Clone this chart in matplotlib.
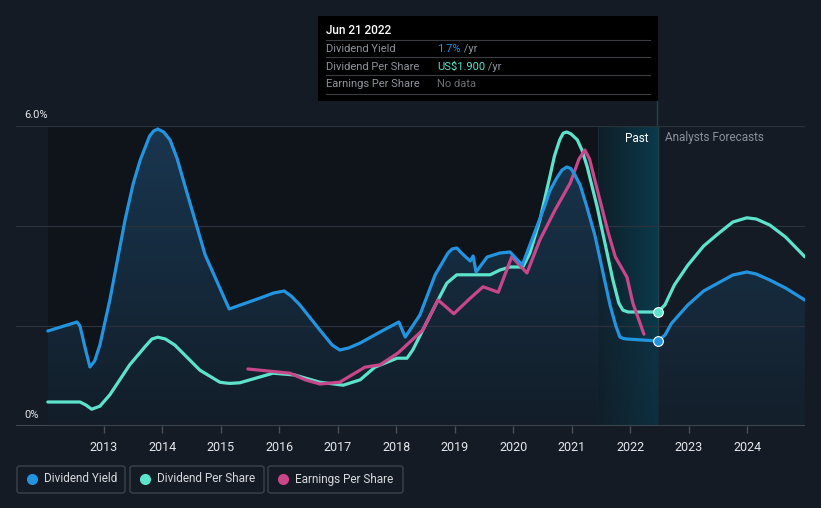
import numpy as np
import matplotlib
matplotlib.use('Agg')
import matplotlib.pyplot as plt
from matplotlib.patches import FancyBboxPatch, Rectangle
import matplotlib.colors as mcolors

# Dividend yield (%), past and analyst forecast
yield_years = [2012.04, 2012.54, 2012.59, 2012.68, 2012.76, 2012.84, 2012.93, 2013.10, 2013.36,
               2013.50, 2013.62, 2013.78, 2013.85, 2013.92, 2014.02, 2014.13, 2014.25, 2014.38,
               2014.73, 2015.14, 2015.67, 2015.90, 2016.08, 2016.20, 2016.35, 2016.69, 2016.90,
               2017.03, 2017.18, 2017.38, 2017.72, 2018.04, 2018.15, 2018.40, 2018.66, 2018.88,
               2018.95, 2019.03, 2019.12, 2019.26, 2019.31, 2019.36, 2019.55, 2019.77, 2019.94,
               2020.15, 2020.28, 2020.54, 2020.62, 2020.74, 2020.83, 2020.91, 2020.98, 2021.05,
               2021.14, 2021.25, 2021.39, 2021.65, 2021.75, 2021.82, 2021.88, 2021.94, 2022.47]
yield_vals = [1.90, 2.08, 2.00, 1.55, 1.18, 1.30, 1.62, 2.52, 4.12,
              4.85, 5.32, 5.80, 5.90, 5.94, 5.88, 5.72, 5.35, 4.82,
              3.42, 2.34, 2.56, 2.66, 2.70, 2.60, 2.42, 1.92, 1.62,
              1.52, 1.56, 1.66, 1.88, 2.08, 1.78, 2.22, 3.02, 3.46,
              3.54, 3.56, 3.45, 3.30, 3.40, 3.08, 3.38, 3.46, 3.48,
              3.22, 3.62, 4.42, 4.70, 4.96, 5.12, 5.18, 5.15, 5.02,
              4.82, 4.40, 3.82, 2.42, 2.00, 1.78, 1.75, 1.74, 1.70]
yield_fc_years = [2022.47, 2022.59, 2022.70, 2022.98, 2023.25, 2023.53, 2023.75, 2023.99,
                  2024.15, 2024.38, 2024.65, 2024.98]
yield_fc_vals = [1.70, 1.82, 2.05, 2.42, 2.70, 2.88, 3.02, 3.08, 3.04, 2.92, 2.76, 2.52]

# Dividend per share (US$)
dps_years = [2012.04, 2012.59, 2012.69, 2012.79, 2012.93, 2013.10, 2013.44, 2013.70, 2013.82,
             2013.92, 2014.05, 2014.21, 2014.64, 2014.98, 2015.05, 2015.15, 2015.32, 2015.89,
             2016.26, 2016.69, 2017.09, 2017.38, 2017.63, 2018.01, 2018.18, 2018.28, 2018.45,
             2018.71, 2018.86, 2019.03, 2019.60, 2019.77, 2019.94, 2020.16, 2020.28, 2020.45,
             2020.62, 2020.70, 2020.79, 2020.85, 2020.91, 2020.98, 2021.09, 2021.17, 2021.26,
             2021.43, 2021.70, 2021.80, 2021.87, 2021.96, 2022.47]
dps_vals = [0.40, 0.40, 0.35, 0.28, 0.33, 0.52, 1.02, 1.32, 1.45,
            1.48, 1.45, 1.35, 0.93, 0.73, 0.72, 0.71, 0.72, 0.88,
            0.85, 0.73, 0.68, 0.77, 0.98, 1.13, 1.13, 1.27, 1.60,
            2.10, 2.38, 2.52, 2.52, 2.60, 2.65, 2.65, 2.88, 3.43,
            4.15, 4.50, 4.77, 4.88, 4.90, 4.87, 4.77, 4.60, 4.32,
            3.65, 2.43, 2.05, 1.93, 1.90, 1.90]
dps_fc_years = [2022.47, 2022.59, 2022.75, 2022.98, 2023.25, 2023.53, 2023.75, 2023.99,
                2024.15, 2024.38, 2024.65, 2024.98]
dps_fc_vals = [1.90, 2.02, 2.35, 2.68, 3.00, 3.23, 3.40, 3.47, 3.45, 3.35, 3.15, 2.82]

# Earnings per share (US$)
eps_years = [2015.46, 2016.18, 2016.44, 2016.69, 2017.03, 2017.46, 2017.72, 2018.03, 2018.45,
             2018.71, 2018.83, 2018.98, 2019.26, 2019.48, 2019.74, 2019.97, 2020.23, 2020.45,
             2020.71, 2020.97, 2021.12, 2021.22, 2021.30, 2021.39, 2021.62, 2021.74, 2021.94,
             2022.04, 2022.23]
eps_vals = [0.95, 0.88, 0.77, 0.70, 0.73, 0.98, 1.02, 1.22, 1.60,
            2.10, 2.00, 1.87, 2.13, 2.32, 2.23, 2.82, 2.55, 3.10,
            3.60, 4.05, 4.45, 4.60, 4.45, 4.10, 3.22, 2.82, 2.48,
            2.05, 1.53]

year_ticks = list(range(2013, 2025))

BG = '#151b24'
BLUE = '#2394df'
TEAL = '#5de3cb'
PINK = '#c9468a'
now = 2022.47
past_start = 2021.45
XL = (2011.496, 2024.983)

fig = plt.figure(figsize=(8.21, 5.08), dpi=100, facecolor=BG)
ax = fig.add_axes([16 / 821, 82 / 508, 789 / 821, 300 / 508])
ax.set_facecolor(BG)

# darker history background
ax.add_patch(Rectangle((yield_years[0], 0), past_start - yield_years[0], 6,
                       facecolor='#0f131a', edgecolor='none', zorder=0))

# past-year highlight with horizontal gradient
grad = np.linspace(0, 1, 256).reshape(1, -1)
cmap_past = mcolors.LinearSegmentedColormap.from_list('past', ['#0f1e27', '#0b3a4c'])
ax.imshow(grad, extent=(past_start, now, 0, 6), aspect='auto', cmap=cmap_past,
          zorder=0.5, interpolation='bilinear')
ax.axvline(past_start, color='#1d3d48', lw=0.8, zorder=0.6)
ax.axvline(now, color='#1f4350', lw=1.0, zorder=0.6)

# gradient fill under dividend yield
all_x = yield_years + yield_fc_years[1:]
all_y = yield_vals + yield_fc_vals[1:]
fill = ax.fill_between(all_x, 0, all_y, facecolor='none', edgecolor='none')
vgrad = np.linspace(0, 1, 256).reshape(-1, 1)
cmap_fill = mcolors.LinearSegmentedColormap.from_list('fill', ['#13202c', '#1b3d5a'])
im = ax.imshow(vgrad, extent=(XL[0], XL[1], 0, 6), origin='lower', aspect='auto',
               cmap=cmap_fill, alpha=0.85, zorder=1, interpolation='bilinear')
im.set_clip_path(fill.get_paths()[0], transform=ax.transData)

# past highlight again over the fill, semi-transparent
ax.imshow(grad, extent=(past_start, now, 0, 6), aspect='auto', cmap=cmap_past,
          zorder=1.1, alpha=0.55, interpolation='bilinear')

# grid
for gy in [2, 4, 6]:
    ax.axhline(gy, color='#2c323c', lw=0.9, zorder=1.2)
ax.axhline(0, color='#4a4f58', lw=1.2, zorder=5)

ax.set_ylim(0, 6)
ax.set_xlim(*XL)

ax2 = ax.twinx()
ax2.set_ylim(0, 5.0)
ax2.set_xlim(*XL)
ax2.axis('off')

lw = 2.3
kw = dict(lw=lw, solid_capstyle='round', solid_joinstyle='round')
ax2.plot(dps_years, dps_vals, color=TEAL, zorder=3, **kw)
ax2.plot(dps_fc_years, dps_fc_vals, color=TEAL, zorder=3, **kw)
ax2.plot(eps_years, eps_vals, color=PINK, zorder=3, **kw)
ax2.plot(yield_years, [v / 1.2 for v in yield_vals], color=BLUE, zorder=4, **kw)
ax2.plot(yield_fc_years, [v / 1.2 for v in yield_fc_vals], color=BLUE, zorder=4, **kw)
ax2.plot([now], [dps_vals[-1]], marker='o', markersize=7, color=TEAL, mec='white', mew=0.8,
         zorder=6, clip_on=False)
ax2.plot([now], [yield_vals[-1] / 1.2], marker='o', markersize=7, color=BLUE, mec='white',
         mew=0.8, zorder=6, clip_on=False)

# axes styling
for s in ax.spines.values():
    s.set_visible(False)
ax.set_yticks([])
ax.set_xticks(year_ticks)
ax.set_xticklabels([str(y) for y in year_ticks], color='#e6e8eb', fontsize=9, family='Roboto')
ax.tick_params(axis='x', length=5, color='#4a4f58', pad=6, width=1)

ax.text(0.011, 6.12, '6.0%', transform=ax.get_yaxis_transform(), color='#e6e8eb',
        fontsize=8, family='Roboto', va='bottom')
ax.text(0.011, 0.12, '0%', transform=ax.get_yaxis_transform(), color='#e6e8eb',
        fontsize=8, family='Roboto', va='bottom')

# now line above the plot, up to the tooltip
fig.add_artist(plt.Line2D([657 / 821, 657 / 821], [382 / 508, 407 / 508],
                          color='#1f4350', lw=1.0, zorder=-1))

fig.text(648 / 821, 370 / 508, 'Past', color='white', fontsize=8.5, family='Roboto',
         ha='right', va='center')
fig.text(665 / 821, 370 / 508, 'Analysts Forecasts', color='#8b9099', fontsize=8.5,
         family='Roboto', ha='left', va='center')

# tooltip
tip = Rectangle((318 / 821, 407 / 508), 340 / 821, 85 / 508, transform=fig.transFigure,
                facecolor='black', edgecolor='none', zorder=10)
fig.add_artist(tip)
fig.text(326 / 821, 477 / 508, 'Jun 21 2022', color='white', fontsize=8.5, family='Roboto',
         weight='medium', va='center', zorder=11)
rows = [('Dividend Yield', '1.7%', BLUE, ' /yr'),
        ('Dividend Per Share', 'US$1.900', TEAL, ' /yr'),
        ('Earnings Per Share', 'No data', '#6a6e75', '')]
for i, (lab, val, col, unit) in enumerate(rows):
    yy = (459 - 17.5 * i) / 508
    fig.add_artist(plt.Line2D([326 / 821, 650 / 821], [yy + 9.5 / 508] * 2,
                              transform=fig.transFigure, color='#3a3d42', lw=0.8, zorder=11))
    fig.text(326 / 821, yy, lab, color='#8f949b', fontsize=8, family='Roboto', va='center',
             zorder=11)
    t = fig.text(437 / 821, yy, val, color=col, fontsize=8, family='Roboto', va='center',
                 zorder=11)
    if unit:
        fig.canvas.draw()
        bb = t.get_window_extent()
        fig.text(bb.x1 / 821, yy, unit, color='#8f949b', fontsize=8, family='Roboto',
                 va='center', zorder=11)
fig.add_artist(plt.Line2D([326 / 821, 650 / 821], [(459 - 35 - 9.5) / 508] * 2,
                          transform=fig.transFigure, color='#3a3d42', lw=0.8, zorder=11))

# legend boxes
legend_items = [('Dividend Yield', BLUE, 17, 108), ('Dividend Per Share', TEAL, 130, 134),
                ('Earnings Per Share', PINK, 268, 135)]
for lab, col, x0, w in legend_items:
    box = FancyBboxPatch((x0 / 821, 15 / 508), w / 821, 27 / 508, transform=fig.transFigure,
                         boxstyle='round,pad=0,rounding_size=0.004', facecolor='none',
                         edgecolor='#3c424b', lw=1.0)
    fig.add_artist(box)
    fig.add_artist(plt.Line2D([(x0 + 15) / 821], [29 / 508], marker='o', markersize=7,
                              color=col, transform=fig.transFigure, lw=0))
    fig.text((x0 + 27) / 821, 29 / 508, lab, color='#d8dadd', fontsize=8.5, family='Roboto',
             va='center')

fig.savefig('out.png', dpi=100, facecolor=BG)
